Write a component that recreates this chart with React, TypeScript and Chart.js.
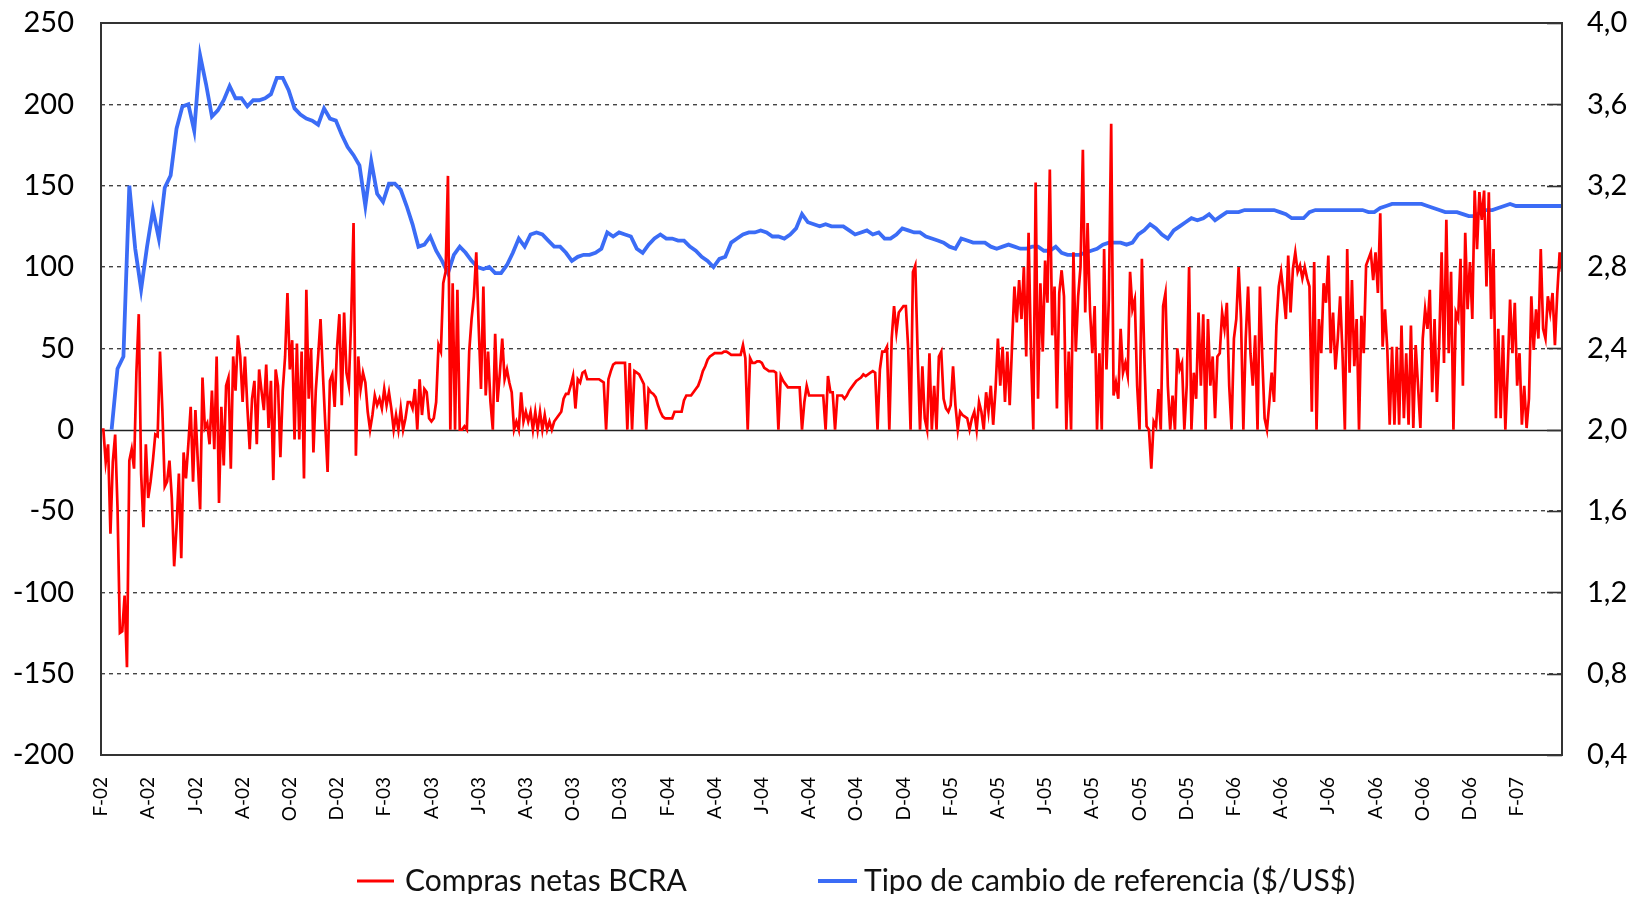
import React, { useEffect, useRef } from 'react';
import { Chart, registerables } from 'chart.js';

Chart.register(...registerables);

// x axis: months since February 2002 (tick every 2 months)
const xTickLabels = [
  'F-02', 'A-02', 'J-02', 'A-02', 'O-02', 'D-02',
  'F-03', 'A-03', 'J-03', 'A-03', 'O-03', 'D-03',
  'F-04', 'A-04', 'J-04', 'A-04', 'O-04', 'D-04',
  'F-05', 'A-05', 'J-05', 'A-05', 'O-05', 'D-05',
  'F-06', 'A-06', 'J-06', 'A-06', 'O-06', 'D-06',
  'F-07',
];
const X_MAX_MONTH = 61.9;

// Compras netas BCRA (millones de US$), one reading every 0.1 month from Feb-02
const RED_STEP = 0.1;
const redValues = [
  0, 0, -20, -9, -64, -20, -3, -48, -125, -124,
  -102, -146, -19, -12, -24, 35, 71, -27, -60, -9,
  -42, -32, -19, -3, -4, 48, 12, -35, -32, -19,
  -42, -84, -60, -27, -79, -14, -30, -9, 14, -32,
  12, -19, -49, 32, 1, 4, -9, 24, -12, 45,
  -45, 14, -22, 27, 32, -24, 45, 24, 58, 45,
  17, 45, 14, -12, 19, 30, -9, 37, 24, 12,
  40, 1, 30, -31, 37, 27, -17, 24, 45, 84,
  37, 55, -6, 53, -6, 48, -30, 86, 19, 50,
  -14, 24, 45, 68, 35, 4, -26, 30, 34, 14,
  50, 71, 15, 72, 35, 27, 68, 127, -16, 45,
  25, 35, 29, 11, 0, 9, 21, 15, 19, 13,
  25, 15, 23, 13, 0, 9, 0, 13, 0, 7,
  17, 17, 13, 25, 0, 31, 9, 25, 23, 7,
  5, 7, 17, 52, 48, 90, 97, 156, 0, 90,
  0, 86, 0, 0, 2, 0, 48, 68, 82, 109,
  64, 25, 88, 21, 48, 17, 0, 59, 17, 35,
  56, 31, 37, 29, 23, 0, 5, 0, 23, 5,
  11, 5, 11, 0, 11, 0, 11, 0, 9, 0,
  5, 0, 5, 7, 9, 11, 19, 22, 22, 27,
  33, 13, 31, 29, 35, 36, 31, 31, 31, 31,
  31, 31, 30, 29, 0, 31, 36, 40, 41, 41,
  41, 41, 41, 0, 41, 0, 36, 35, 34, 31,
  28, 0, 25, 23, 22, 20, 15, 11, 8, 7,
  7, 7, 7, 11, 11, 11, 11, 18, 21, 21,
  21, 23, 25, 27, 31, 36, 39, 43, 45, 46,
  47, 47, 47, 47, 48, 48, 47, 46, 46, 46,
  46, 46, 52, 44, 0, 44, 41, 41, 42, 42,
  41, 38, 37, 36, 36, 36, 35, 0, 33, 30,
  28, 26, 26, 26, 26, 26, 26, 0, 17, 27,
  21, 21, 21, 21, 21, 21, 21, 0, 33, 23,
  23, 0, 21, 21, 21, 19, 21, 24, 26, 28,
  30, 31, 32, 34, 33, 34, 35, 36, 35, 0,
  37, 48, 48, 51, 0, 56, 76, 60, 72, 74,
  76, 76, 50, 0, 97, 101, 47, 0, 39, 7,
  0, 47, 0, 27, 0, 45, 48, 19, 13, 11,
  15, 39, 15, 0, 11, 9, 8, 7, 0, 7,
  11, 0, 17, 11, 0, 23, 11, 27, 3, 25,
  56, 27, 51, 17, 48, 15, 52, 88, 66, 92,
  68, 100, 45, 121, 48, 0, 152, 19, 90, 48,
  104, 78, 160, 58, 88, 13, 84, 98, 82, 0,
  48, 0, 109, 48, 82, 100, 172, 72, 127, 74,
  47, 76, 0, 47, 0, 111, 37, 80, 188, 21,
  29, 19, 62, 35, 41, 33, 97, 74, 80, 27,
  0, 105, 47, 2, 0, -24, 5, 2, 25, 0,
  76, 84, 27, 0, 21, 0, 50, 37, 41, 0,
  27, 100, 0, 35, 19, 72, 27, 71, 0, 68,
  27, 45, 7, 45, 47, 72, 62, 78, 27, 0,
  56, 68, 100, 68, 0, 56, 88, 47, 27, 58,
  0, 88, 45, 7, 0, 17, 35, 17, 64, 88,
  97, 84, 68, 107, 72, 99, 109, 97, 101, 93,
  100, 93, 88, 11, 103, 0, 68, 47, 90, 78,
  107, 47, 72, 37, 56, 82, 47, 0, 111, 35,
  92, 39, 68, 0, 70, 47, 101, 105, 109, 92,
  109, 84, 133, 51, 74, 49, 3, 51, 3, 51,
  3, 64, 7, 47, 3, 64, 1, 52, 27, 1,
  56, 74, 62, 86, 23, 68, 17, 54, 109, 41,
  129, 47, 97, 0, 72, 68, 105, 27, 121, 74,
  103, 68, 147, 111, 146, 129, 147, 88, 146, 68,
  111, 7, 62, 7, 58, 0, 37, 80, 47, 78,
  27, 47, 3, 27, 1, 19, 82, 49, 74, 56,
  111, 62, 56, 82, 72, 84, 52, 84, 109, 97,
];

// Tipo de cambio de referencia ($/US$), one reading every 0.25 month
const BLUE_START = 0.45;
const BLUE_STEP = 0.25;
const blueValues = [
  2.00, 2.30, 2.36, 3.20, 2.89, 2.69, 2.90, 3.08, 2.94, 3.19,
  3.25, 3.48, 3.59, 3.60, 3.47, 3.84, 3.70, 3.54, 3.57, 3.62,
  3.69, 3.63, 3.63, 3.59, 3.62, 3.62, 3.63, 3.65, 3.73, 3.73,
  3.67, 3.58, 3.55, 3.53, 3.52, 3.50, 3.58, 3.53, 3.52,
  3.45, 3.39, 3.35, 3.30, 3.10, 3.32, 3.16, 3.12, 3.21, 3.21,
  3.18, 3.10, 3.01, 2.90, 2.91, 2.95, 2.88, 2.83, 2.77, 2.86,
  2.90, 2.87, 2.83, 2.80, 2.79, 2.80, 2.77, 2.77, 2.81, 2.87,
  2.94, 2.90, 2.96, 2.97, 2.96, 2.93, 2.90, 2.90, 2.87, 2.83,
  2.85, 2.86,
  2.86, 2.87, 2.89, 2.97, 2.95, 2.97, 2.96, 2.95, 2.89, 2.87,
  2.91, 2.94, 2.96, 2.94, 2.94, 2.93, 2.93, 2.90, 2.88, 2.85,
  2.83, 2.80, 2.84, 2.85, 2.92, 2.94, 2.96, 2.97, 2.97, 2.98,
  2.97, 2.95, 2.95, 2.94, 2.96, 2.99, 3.06, 3.02, 3.01, 3.00,
  3.01, 3.00,
  3.00, 3.00, 2.98, 2.96, 2.97, 2.98, 2.96, 2.97, 2.94, 2.94,
  2.96, 2.99, 2.98, 2.97, 2.97, 2.95, 2.94, 2.93, 2.92, 2.90,
  2.89, 2.94, 2.93, 2.92, 2.92, 2.92, 2.90, 2.89, 2.90, 2.91,
  2.90, 2.89, 2.89, 2.90, 2.90, 2.88, 2.88, 2.90, 2.87, 2.86,
  2.86, 2.86,
  2.87, 2.88, 2.89, 2.91, 2.92, 2.92, 2.92, 2.91, 2.92, 2.96,
  2.98, 3.01, 2.99, 2.96, 2.94, 2.98, 3.00, 3.02, 3.04, 3.03,
  3.04, 3.06, 3.03, 3.05, 3.07, 3.07, 3.07, 3.08, 3.08, 3.08,
  3.08, 3.08, 3.08, 3.07, 3.06, 3.04, 3.04, 3.04, 3.07, 3.08,
  3.08,
  3.08, 3.08, 3.08, 3.08, 3.08, 3.08, 3.08, 3.07, 3.07, 3.09,
  3.10, 3.11, 3.11, 3.11, 3.11, 3.11, 3.11, 3.10, 3.09, 3.08,
  3.07, 3.07, 3.07, 3.06, 3.05, 3.05, 3.07, 3.08, 3.08, 3.09,
  3.10, 3.11, 3.10, 3.10, 3.10, 3.10, 3.10, 3.10, 3.10, 3.10,
  3.10,
];

const LEFT_TICKS = { min: -200, max: 250, step: 50 };
const RIGHT_TICKS = { min: 0.4, max: 4.0, step: 0.4 };

const RED = '#ff0000';
const BLUE = '#3b6cf6';
const FONT = 'Lato, "Open Sans", sans-serif';

const CANVAS_W = 1632;
const CANVAS_H = 886;

const decorPlugin = {
  id: 'decor',
  beforeDatasetsDraw(chart: any) {
    const { ctx, chartArea: a, scales } = chart;
    ctx.save();
    // solid zero line
    const y0 = Math.round(scales.y.getPixelForValue(0)) + 0.5;
    ctx.strokeStyle = '#222';
    ctx.lineWidth = 1.6;
    ctx.beginPath();
    ctx.moveTo(a.left, y0);
    ctx.lineTo(a.right, y0);
    ctx.stroke();
    // short inward tick marks on the right axis
    ctx.strokeStyle = '#333';
    ctx.lineWidth = 1.6;
    scales.y1.ticks.forEach((t: any) => {
      const yy = Math.round(scales.y1.getPixelForValue(t.value)) + 0.5;
      ctx.beginPath();
      ctx.moveTo(a.right - 15, yy);
      ctx.lineTo(a.right, yy);
      ctx.stroke();
    });
    ctx.restore();
  },
  afterDatasetsDraw(chart: any) {
    const { ctx, chartArea: a } = chart;
    ctx.save();
    ctx.strokeStyle = '#333';
    ctx.lineWidth = 2;
    ctx.strokeRect(a.left, a.top, a.right - a.left, a.bottom - a.top);
    ctx.restore();
  },
  afterDraw(chart: any) {
    const { ctx } = chart;
    const ds = chart.data.datasets;
    const items = [
      { x0: 349, x1: 386, tx: 397, w: 3 },
      { x0: 810, x1: 849, tx: 856, w: 4 },
    ];
    ctx.save();
    ctx.font = `30px ${FONT}`;
    ctx.textBaseline = 'alphabetic';
    ctx.textAlign = 'left';
    items.forEach((it, i) => {
      ctx.strokeStyle = ds[i].borderColor;
      ctx.lineWidth = it.w;
      ctx.beginPath();
      ctx.moveTo(it.x0, 873);
      ctx.lineTo(it.x1, 873);
      ctx.stroke();
      ctx.fillStyle = '#111';
      ctx.fillText(ds[i].label, it.tx, 883);
    });
    ctx.restore();
  },
};

export default function App() {
  const ref = useRef<HTMLCanvasElement>(null);

  useEffect(() => {
    const redPoints = redValues.map((v, i) => ({ x: i * RED_STEP, y: v }));
    const bluePoints = blueValues.map((v, i) => ({ x: BLUE_START + i * BLUE_STEP, y: v }));

    const chart = new Chart(ref.current as HTMLCanvasElement, {
      type: 'line',
      data: {
        datasets: [
          {
            label: 'Compras netas BCRA',
            data: redPoints,
            yAxisID: 'y',
            borderColor: RED,
            backgroundColor: RED,
            borderWidth: 2.7,
            pointRadius: 0,
            tension: 0,
          },
          {
            label: 'Tipo de cambio de referencia ($/US$)',
            data: bluePoints,
            yAxisID: 'y1',
            borderColor: BLUE,
            backgroundColor: BLUE,
            borderWidth: 3.8,
            pointRadius: 0,
            tension: 0,
          },
        ],
      },
      options: {
        animation: false,
        responsive: false,
        maintainAspectRatio: false,
        layout: { padding: { top: 15, left: 0, right: 0, bottom: 0 } },
        plugins: {
          legend: { display: false },
          tooltip: { enabled: false },
        },
        scales: {
          x: {
            type: 'linear',
            min: 0,
            max: X_MAX_MONTH,
            afterBuildTicks: (s: any) => {
              s.ticks = xTickLabels.map((_, i) => ({ value: i * 2 }));
            },
            afterFit: (s: any) => {
              s.height = 139;
              s.paddingLeft = 0;
              s.paddingRight = 0;
            },
            ticks: {
              autoSkip: false,
              minRotation: 90,
              maxRotation: 90,
              padding: 22,
              color: '#000',
              font: { family: FONT, size: 19 },
              callback: (v: any) => xTickLabels[Math.round(Number(v) / 2)] ?? '',
            },
            grid: { display: false, drawTicks: false },
            border: { display: false },
          },
          y: {
            type: 'linear',
            position: 'left',
            min: LEFT_TICKS.min,
            max: LEFT_TICKS.max,
            afterFit: (s: any) => {
              s.width = 93;
              s.paddingTop = 0;
              s.paddingBottom = 0;
            },
            ticks: {
              stepSize: LEFT_TICKS.step,
              padding: 27,
              color: '#000',
              font: { family: FONT, size: 29 },
            },
            grid: {
              drawTicks: false,
              lineWidth: 1.4,
              color: (c: any) =>
                c.tick && (c.tick.value === 0 || c.tick.value === LEFT_TICKS.max || c.tick.value === LEFT_TICKS.min)
                  ? 'rgba(0,0,0,0)'
                  : '#444',
            },
            border: { display: false, dash: [4, 4] },
          },
          y1: {
            type: 'linear',
            position: 'right',
            min: RIGHT_TICKS.min,
            max: RIGHT_TICKS.max,
            afterFit: (s: any) => {
              s.width = 78;
              s.paddingTop = 0;
              s.paddingBottom = 0;
            },
            ticks: {
              stepSize: RIGHT_TICKS.step,
              padding: 25,
              color: '#000',
              font: { family: FONT, size: 29 },
              callback: (v: any) => Number(v).toFixed(1).replace('.', ','),
            },
            grid: { display: false, drawOnChartArea: false, drawTicks: false },
            border: { display: false },
          },
        },
      },
      plugins: [decorPlugin],
    } as any);

    return () => chart.destroy();
  }, []);

  return (
    <div style={{ width: CANVAS_W, height: CANVAS_H }}>
      <canvas ref={ref} width={CANVAS_W} height={CANVAS_H} style={{ display: 'block' }} />
    </div>
  );
}
